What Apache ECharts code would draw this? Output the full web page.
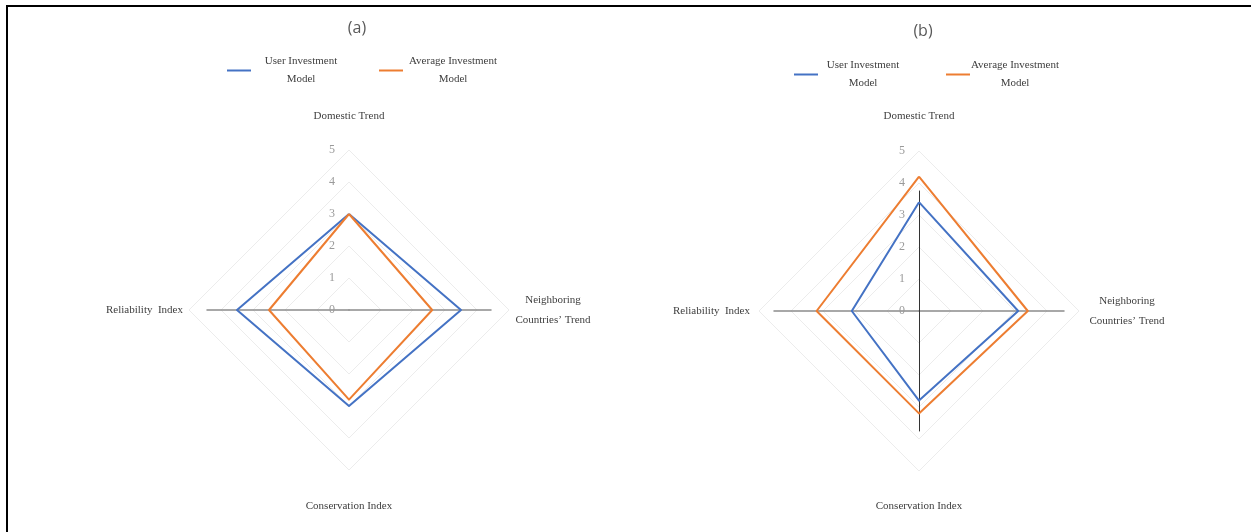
<!DOCTYPE html>
<html><head><meta charset="utf-8">
<script src="https://cdn.jsdelivr.net/npm/echarts@6/dist/echarts.min.js"></script>
<style>
html,body{margin:0;padding:0;background:#fff;}
#chart{position:absolute;left:0;top:0;width:1251px;height:532px;}
#frame{position:absolute;left:6px;top:5px;width:1245px;height:527px;border-top:2px solid #000;border-left:2px solid #000;box-sizing:border-box;pointer-events:none;}
</style></head><body>
<div id="chart"></div><div id="frame"></div>
<script>
// ---- data ----
const indicators = ['Domestic Trend', 'Reliability  Index', 'Conservation Index', 'Neighboring\nCountries\u2019 Trend'];
const tickLabels = ['0', '1', '2', '3', '4', '5'];
const seriesNames = ['User Investment Model', 'Average Investment Model'];
const legendLines = [['User Investment', 'Model'], ['Average Investment', 'Model']];
const panelTitles = ['(a)', '(b)'];
const panelA_user = [3.0, 3.5, 3.0, 3.5];
const panelA_avg  = [3.0, 2.5, 2.8, 2.6];
const panelB_user = [3.4, 2.1, 2.8, 3.1];
const panelB_avg  = [4.2, 3.2, 3.2, 3.4];
const colors = ['#4472C4', '#ED7D31'];

const serif = 'Liberation Serif';
const nameColor = '#404040';

function mainRadar(cx, cy, gaps) {
  return {
    center: [cx, cy], radius: 160, startAngle: 90, shape: 'polygon', splitNumber: 5,
    indicator: indicators.map((n, i) => {
      const o = { name: n, min: 0, max: 5, nameGap: gaps[i] };
      if (i === 0) o.axisLabel = { show: true };
      if (i === 3) o.nameTextStyle = { align: 'center' };
      return o;
    }),
    axisName: { color: nameColor, fontFamily: serif, fontSize: 11, lineHeight: 20 },
    axisLine: { show: false },
    axisTick: { show: false },
    splitLine: { lineStyle: { color: '#ececec', width: 1 } },
    splitArea: { show: false },
    axisLabel: { show: false, color: '#9a9a9a', fontFamily: serif, fontSize: 12, margin: 14,
                 formatter: v => tickLabels[Math.round(v)] },
    silent: true
  };
}
function lineRadar(cx, cy, startAngle, r, color, width) {
  return {
    center: [cx, cy], radius: r, startAngle: startAngle,
    indicator: [{ name: '', max: 1 }, { name: '', max: 1 }],
    axisName: { show: false },
    splitLine: { show: false }, splitArea: { show: false },
    axisLine: { show: true, lineStyle: { color: color, width: width } },
    axisLabel: { show: false }, axisTick: { show: false }, silent: true
  };
}
function legendAt(left, top, textW, gap) {
  return {
    data: seriesNames, left: left, top: top, icon: 'rect', itemWidth: 24, itemHeight: 2,
    itemGap: gap, selectedMode: false,
    formatter: n => { const l = legendLines[seriesNames.indexOf(n)]; return '{t|' + l[0] + '}\n{t|' + l[1] + '}'; },
    textStyle: { rich: { t: { width: textW, align: 'center', fontFamily: serif, fontSize: 11, color: nameColor, lineHeight: 18 } } }
  };
}
function series(radarIndex, user, avg) {
  return {
    type: 'radar', radarIndex: radarIndex, symbol: 'none', silent: true,
    data: [
      { name: seriesNames[0], value: user, lineStyle: { color: colors[0], width: 2 }, itemStyle: { color: colors[0] } },
      { name: seriesNames[1], value: avg, lineStyle: { color: colors[1], width: 2 }, itemStyle: { color: colors[1] } }
    ]
  };
}

const chart = echarts.init(document.getElementById('chart'), null, { renderer: 'canvas' });
chart.setOption({
  backgroundColor: '#fff',
  animation: false,
  color: colors,
  title: [
    { text: panelTitles[0], left: 352, top: 15, textAlign: 'center', textStyle: { fontFamily: 'Open Sans', fontSize: 16, fontWeight: 'normal', color: '#595959' } },
    { text: panelTitles[1], left: 918, top: 18, textAlign: 'center', textStyle: { fontFamily: 'Open Sans', fontSize: 16, fontWeight: 'normal', color: '#595959' } }
  ],
  legend: [legendAt(222, 51, 90, 33), legendAt(789, 55, 80, 43)],
  radar: [
    lineRadar(349, 310, 0, 142, '#8c8c8c', 1.5),
    lineRadar(919, 311, 0, 145, '#8c8c8c', 1.5),
    lineRadar(919, 311, 90, 120, '#333333', 1),
    mainRadar(349, 310, [24, 6, 26, 44]),
    mainRadar(919, 311, [25, 9, 25, 48])
  ],
  series: [series(3, panelA_user, panelA_avg), series(4, panelB_user, panelB_avg)]
});
</script>
</body></html>
